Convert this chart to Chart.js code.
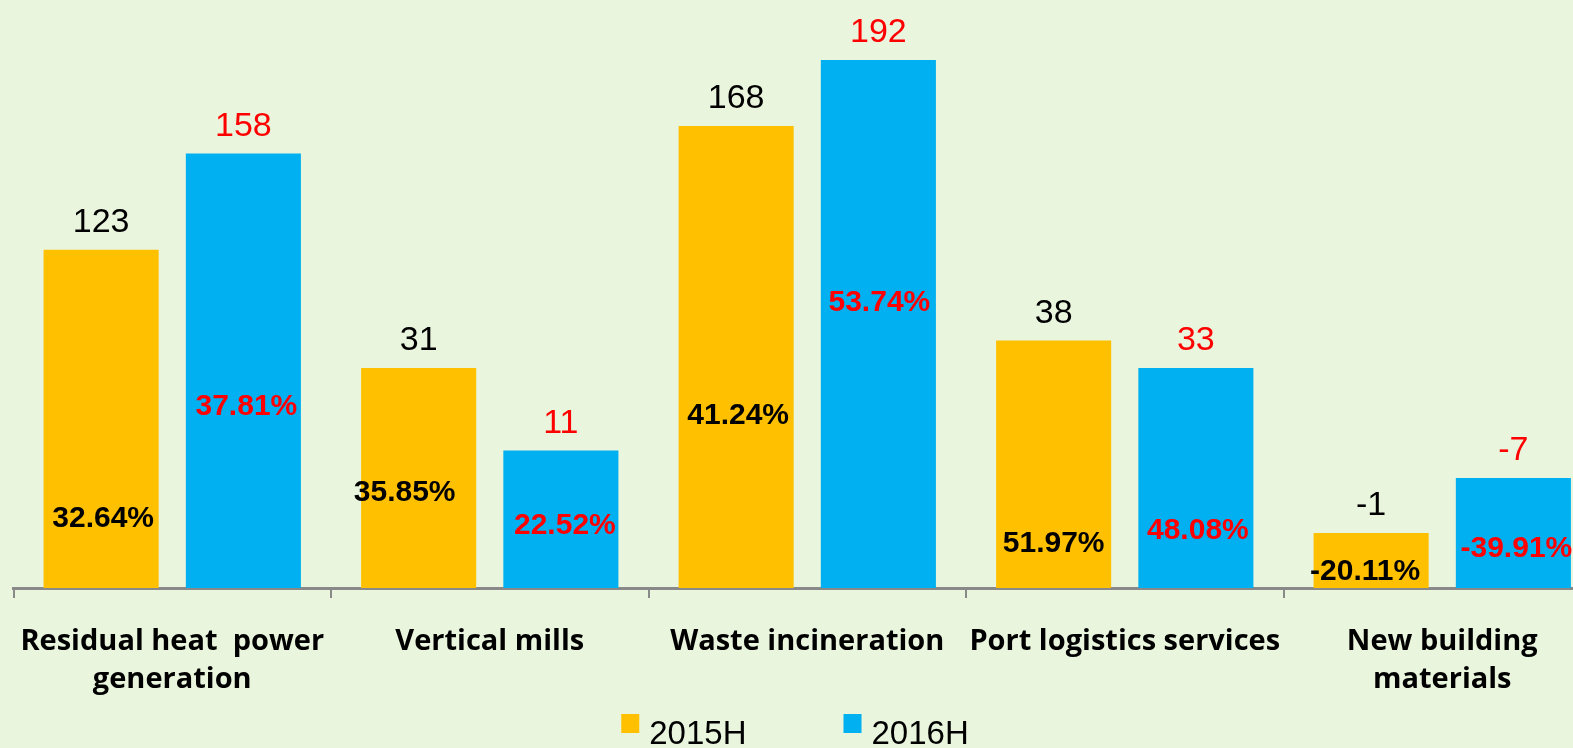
<!DOCTYPE html>
<html><head><meta charset="utf-8">
<script src="https://cdn.jsdelivr.net/npm/chart.js@4"></script>
<style>
html,body{margin:0;padding:0;background:#E9F5DC;overflow:hidden;}
#wrap{position:absolute;left:0;top:0;width:1601px;height:748px;}
</style></head><body>
<div id="wrap"><canvas id="c" width="1601" height="748"></canvas></div>
<script>
// ---- data ----
const categories = [["Residual heat  power", "generation"], ["Vertical mills"], ["Waste incineration"], ["Port logistics services"], ["New building", "materials"]];
const seriesNames = ["2015H", "2016H"];
// bar heights as drawn in the picture (units of the value axis)
const barHeights2015 = [123, 80, 168, 90, 20];
const barHeights2016 = [158, 50, 192, 80, 40];
// numbers printed above the bars
const values2015 = ["123", "31", "168", "38", "-1"];
const values2016 = ["158", "11", "192", "33", "-7"];
// percentages printed inside the bars
const shares2015 = ["32.64%", "35.85%", "41.24%", "51.97%", "-20.11%"];
const shares2016 = ["37.81%", "22.52%", "53.74%", "48.08%", "-39.91%"];

// ---- label placement (styling, not data) ----
const sharePlacement = {
  level2015: [22.3, 31.8, 59.6, 13.2, 2.9],
  level2016: [63.0, 19.7, 100.9, 17.7, 11.2],
  dx2015: [2, -14, 2, 0, -6],
  dx2016: [3, 4, 1, 2, 3]
};

const BG = '#E9F5DC';
const ORANGE = '#FFC000';
const BLUE = '#00B0F0';
const AXIS = '#898989';

const bgPlugin = {
  id: 'bg',
  beforeDraw(chart) {
    const ctx = chart.ctx;
    ctx.save();
    ctx.fillStyle = BG;
    ctx.fillRect(0, 0, chart.width, chart.height);
    ctx.restore();
  }
};

const labelPlugin = {
  id: 'barLabels',
  afterDatasetsDraw(chart) {
    const ctx = chart.ctx;
    const yScale = chart.scales.y;
    const sets = [
      { vals: values2015, shares: shares2015, color: '#000000', lv: sharePlacement.level2015, dx: sharePlacement.dx2015 },
      { vals: values2016, shares: shares2016, color: '#FF0000', lv: sharePlacement.level2016, dx: sharePlacement.dx2016 }
    ];
    sets.forEach((s, di) => {
      const meta = chart.getDatasetMeta(di);
      meta.data.forEach((bar, i) => {
        ctx.save();
        ctx.fillStyle = s.color;
        ctx.textAlign = 'center';
        ctx.textBaseline = 'alphabetic';
        ctx.font = '34px "Liberation Sans", Arial, sans-serif';
        ctx.fillText(s.vals[i], bar.x, bar.y - 17.5);
        ctx.font = 'bold 30px "Liberation Sans", Arial, sans-serif';
        ctx.fillText(s.shares[i], bar.x + s.dx[i], yScale.getPixelForValue(s.lv[i]));
        ctx.restore();
      });
    });
  }
};

const legendPlugin = {
  id: 'customLegend',
  afterDraw(chart) {
    const ctx = chart.ctx;
    ctx.save();
    ctx.font = '33px "Liberation Sans", Arial, sans-serif';
    const boxW = 18, boxH = 19, textGap = 10, itemGap = 97;
    const items = chart.data.datasets.map(d => ({ text: d.label, color: d.backgroundColor, w: ctx.measureText(d.label).width }));
    let total = 0;
    items.forEach((it, i) => { total += boxW + textGap + it.w + (i ? itemGap : 0); });
    let x = 795 - total / 2;
    items.forEach((it, i) => {
      if (i) x += itemGap;
      ctx.fillStyle = it.color;
      ctx.fillRect(x, 714, boxW, boxH);
      x += boxW + textGap;
      ctx.fillStyle = '#000000';
      ctx.textAlign = 'left';
      ctx.textBaseline = 'alphabetic';
      ctx.fillText(it.text, x, 744);
      x += it.w;
    });
    ctx.restore();
  }
};

new Chart(document.getElementById('c'), {
  type: 'bar',
  data: {
    labels: categories,
    datasets: [
      { label: seriesNames[0], data: barHeights2015, backgroundColor: ORANGE, categoryPercentage: 0.896, barPercentage: 0.809 },
      { label: seriesNames[1], data: barHeights2016, backgroundColor: BLUE, categoryPercentage: 0.896, barPercentage: 0.809 }
    ]
  },
  options: {
    responsive: false,
    devicePixelRatio: 1,
    animation: false,
    layout: { padding: { left: 13.5, right: 0, top: 0, bottom: 25 } },
    plugins: { legend: { display: false }, tooltip: { enabled: false } },
    scales: {
      x: {
        afterFit(scale) { scale.paddingLeft = 0; scale.paddingRight = 0; },
        grid: { offset: true, drawOnChartArea: false, drawTicks: true, tickLength: 10, color: AXIS, lineWidth: 2 },
        border: { display: true, color: AXIS, width: 3 },
        ticks: {
          autoSkip: false, maxRotation: 0, minRotation: 0, padding: 25,
          color: '#000000',
          font: { family: '"Open Sans", "Noto Sans", sans-serif', size: 29, weight: 'bold', lineHeight: '37.5px' }
        }
      },
      y: { display: false, min: 0, max: 213.8 }
    }
  },
  plugins: [bgPlugin, labelPlugin, legendPlugin]
});
</script>
</body></html>
